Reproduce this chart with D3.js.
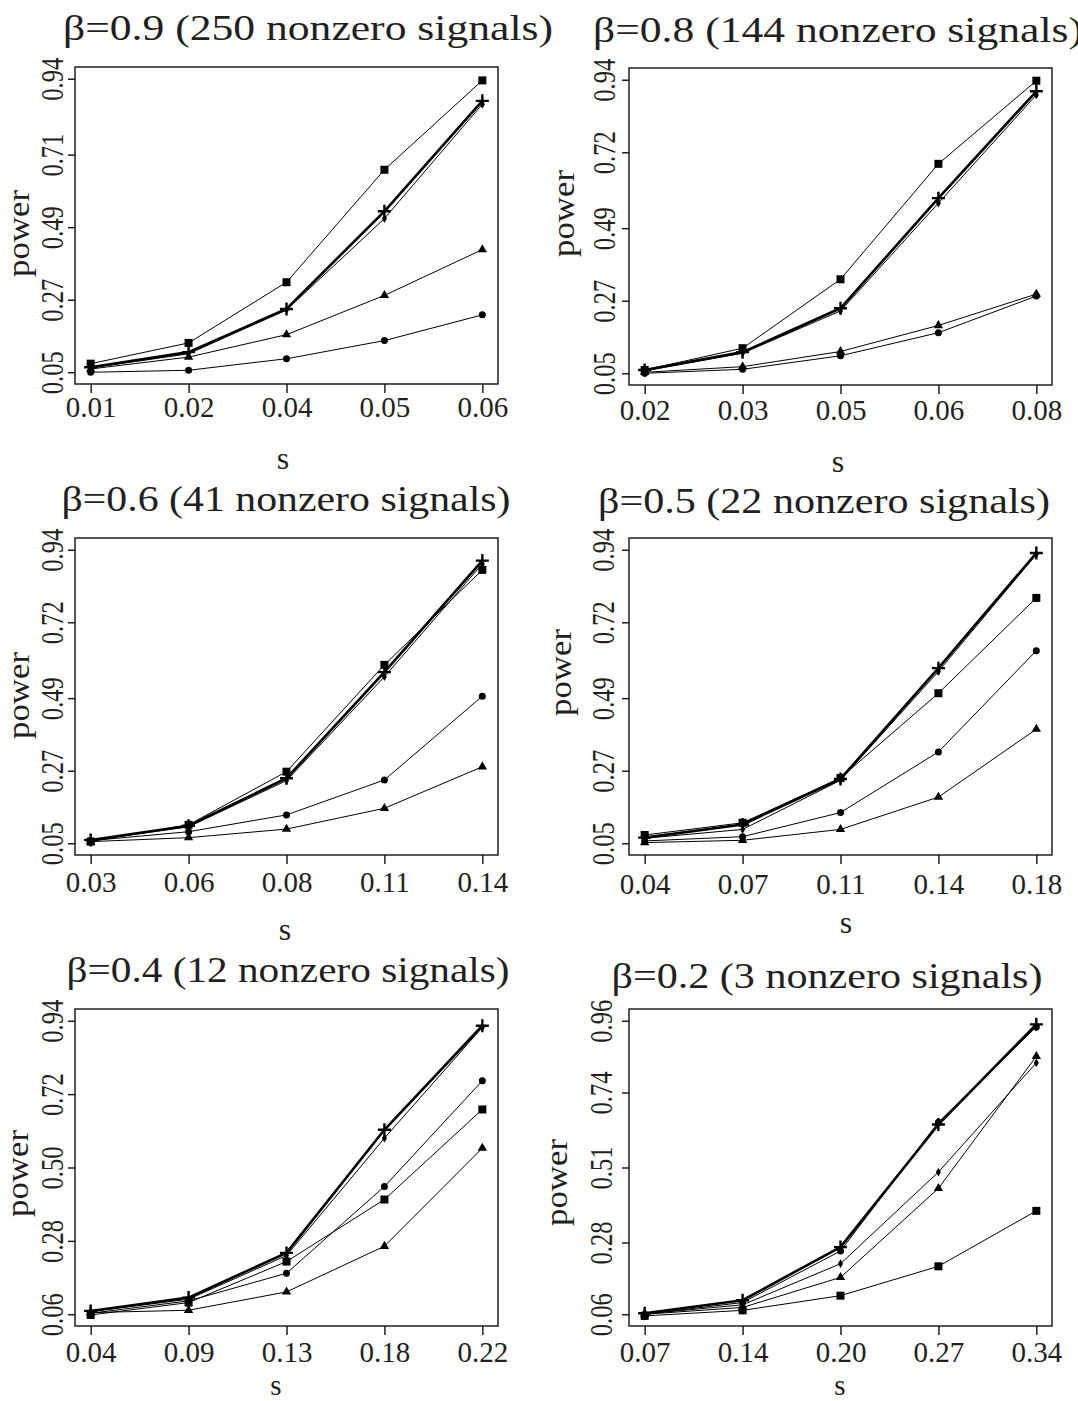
<!DOCTYPE html>
<html>
<head>
<meta charset="utf-8">
<script src="https://cdn.jsdelivr.net/npm/d3@7"></script>
<style>
  body { margin: 0; background: #fff; }
  text { font-family: "Liberation Serif", "Times New Roman", Times, serif; fill: #231f20; }
</style>
</head>
<body>
<div id="main"></div>
<script>
// panel titles and axis labels
const titles = [
    "β=0.9 (250 nonzero signals)",
    "β=0.8 (144 nonzero signals)",
    "β=0.6 (41 nonzero signals)",
    "β=0.5 (22 nonzero signals)",
    "β=0.4 (12 nonzero signals)",
    "β=0.2 (3 nonzero signals)"
];
const sLabels = [
    ["0.01", "0.02", "0.04", "0.05", "0.06"],
    ["0.02", "0.03", "0.05", "0.06", "0.08"],
    ["0.03", "0.06", "0.08", "0.11", "0.14"],
    ["0.04", "0.07", "0.11", "0.14", "0.18"],
    ["0.04", "0.09", "0.13", "0.18", "0.22"],
    ["0.07", "0.14", "0.20", "0.27", "0.34"]
];
const powerTicks = [
    ["0.05", "0.27", "0.49", "0.71", "0.94"],
    ["0.05", "0.27", "0.49", "0.72", "0.94"],
    ["0.05", "0.27", "0.49", "0.72", "0.94"],
    ["0.05", "0.27", "0.49", "0.72", "0.94"],
    ["0.06", "0.28", "0.50", "0.72", "0.94"],
    ["0.06", "0.28", "0.51", "0.74", "0.96"]
];

// power values, one row per panel
const squareVals = [
    [0.076, 0.139, 0.323, 0.664, 0.935],
    [0.060, 0.126, 0.335, 0.685, 0.937],
    [0.055, 0.106, 0.267, 0.591, 0.879],
    [0.075, 0.112, 0.248, 0.505, 0.794],
    [0.058, 0.095, 0.218, 0.404, 0.674],
    [0.055, 0.072, 0.117, 0.207, 0.377]
];
const plusVals = [
    [0.065, 0.111, 0.242, 0.538, 0.873],
    [0.060, 0.114, 0.247, 0.581, 0.905],
    [0.060, 0.103, 0.247, 0.569, 0.907],
    [0.067, 0.107, 0.245, 0.581, 0.930],
    [0.070, 0.110, 0.244, 0.613, 0.925],
    [0.063, 0.103, 0.266, 0.642, 0.949]
];
const diamondVals = [
    [0.063, 0.106, 0.239, 0.516, 0.863],
    [0.057, 0.111, 0.239, 0.566, 0.894],
    [0.058, 0.100, 0.240, 0.555, 0.897],
    [0.065, 0.092, 0.241, 0.571, 0.926],
    [0.068, 0.105, 0.236, 0.588, 0.920],
    [0.061, 0.089, 0.215, 0.496, 0.831]
];
const triangleVals = [
    [0.060, 0.096, 0.164, 0.283, 0.422],
    [0.053, 0.070, 0.116, 0.195, 0.290],
    [0.055, 0.067, 0.093, 0.156, 0.282],
    [0.052, 0.059, 0.092, 0.190, 0.396],
    [0.065, 0.072, 0.127, 0.264, 0.558],
    [0.060, 0.081, 0.173, 0.446, 0.851]
];
const circleVals = [
    [0.050, 0.056, 0.091, 0.146, 0.224],
    [0.050, 0.062, 0.103, 0.173, 0.284],
    [0.058, 0.085, 0.136, 0.242, 0.496],
    [0.057, 0.070, 0.143, 0.327, 0.634],
    [0.063, 0.100, 0.183, 0.443, 0.760],
    [0.060, 0.096, 0.254, 0.649, 0.941]
];

// page geometry of each panel
const layout = [
    { left: 75,  top: 67,   tx: 308, ty: 40,  tlen: 490, xl: 33, sx: 283, sy: 469,  ss: 32, px: 46, py: 8,   yl: 12 },
    { left: 629, top: 68,   tx: 838, ty: 42,  tlen: 490, xl: 35, sx: 838, sy: 472,  ss: 32, px: 55, py: -13, yl: 14 },
    { left: 75,  top: 538,  tx: 286, ty: 511, tlen: 449, xl: 37, sx: 285, sy: 940,  ss: 32, px: 46, py: -1,  yl: 12 },
    { left: 629, top: 538,  tx: 824, ty: 513, tlen: 452, xl: 39, sx: 846, sy: 933,  ss: 32, px: 58, py: -24, yl: 15 },
    { left: 75,  top: 1009, tx: 288, ty: 982, tlen: 443, xl: 36, sx: 276, sy: 1395, ss: 29, px: 47, py: 6,   yl: 12 },
    { left: 629, top: 1009, tx: 827, ty: 988, tlen: 431, xl: 36, sx: 840, sy: 1395, ss: 29, px: 62, py: 15,  yl: 17 }
];
const W = 423, H = 317;

const svg = d3.select("#main").append("svg")
    .attr("width", 1078)
    .attr("height", 1401);

function marker(g, type, x, y) {
    if (type === "square") {
        g.append("rect").attr("x", x - 4).attr("y", y - 4)
            .attr("width", 8).attr("height", 8).attr("fill", "#000");
    } else if (type === "circle") {
        g.append("circle").attr("cx", x).attr("cy", y).attr("r", 3.5).attr("fill", "#000");
    } else if (type === "triangle") {
        g.append("path").attr("transform", `translate(${x},${y})`)
            .attr("d", d3.symbol(d3.symbolTriangle, 38)()).attr("fill", "#000");
    } else if (type === "diamond") {
        g.append("path").attr("transform", `translate(${x},${y})`)
            .attr("d", d3.symbol(d3.symbolDiamond, 22)()).attr("fill", "#000");
    } else if (type === "plus") {
        g.append("path").attr("d", `M${x - 6.5},${y}H${x + 6.5}M${x},${y - 6.5}V${y + 6.5}`)
            .attr("stroke", "#000").attr("stroke-width", 2.4);
    }
}

titles.forEach(function (title, i) {
    const L = layout[i];
    const g = svg.append("g");
    const ticks = powerTicks[i].map(Number);
    const lo = ticks[0], hi = ticks[ticks.length - 1], r = hi - lo;

    const x = d3.scaleLinear().domain([-0.16, 4.16]).range([L.left, L.left + W]);
    const y = d3.scaleLinear().domain([lo - 0.04 * r, hi + 0.04 * r]).range([L.top + H, L.top]);

    // title
    g.append("text")
        .attr("x", L.tx).attr("y", L.ty)
        .attr("text-anchor", "middle")
        .attr("font-size", 35)
        .attr("textLength", L.tlen)
        .attr("lengthAdjust", "spacingAndGlyphs")
        .text(title);

    // series
    const series = [
        { vals: squareVals[i], type: "square", w: 1 },
        { vals: circleVals[i], type: "circle", w: 1 },
        { vals: triangleVals[i], type: "triangle", w: 1 },
        { vals: diamondVals[i], type: "diamond", w: 1 },
        { vals: plusVals[i], type: "plus", w: 2.6 }
    ];
    const line = d3.line().x((d, k) => x(k)).y(d => y(d));
    series.forEach(function (s) {
        g.append("path")
            .attr("d", line(s.vals))
            .attr("fill", "none")
            .attr("stroke", "#000")
            .attr("stroke-width", s.w)
            .attr("stroke-linejoin", "round");
        s.vals.forEach(function (v, k) { marker(g, s.type, x(k), y(v)); });
    });

    // box
    g.append("rect")
        .attr("x", L.left).attr("y", L.top)
        .attr("width", W).attr("height", H)
        .attr("fill", "none").attr("stroke", "#111").attr("stroke-width", 1.4);

    // x axis
    const xAxis = d3.axisBottom(x)
        .tickValues([0, 1, 2, 3, 4])
        .tickFormat(k => sLabels[i][k])
        .tickSize(9).tickSizeOuter(0);
    const xg = g.append("g").attr("transform", `translate(0,${L.top + H})`).call(xAxis);
    xg.select(".domain").remove();
    xg.selectAll("line").attr("stroke", "#111").attr("stroke-width", 1.4);
    xg.selectAll("text")
        .attr("y", L.xl).attr("dy", 0)
        .attr("font-size", 29)
        .attr("fill", "#231f20");

    // y axis, labels rotated like R's default
    const yAxis = d3.axisLeft(y)
        .tickValues(ticks)
        .tickFormat((d, k) => powerTicks[i][k])
        .tickSize(7).tickSizeOuter(0);
    const yg = g.append("g").attr("transform", `translate(${L.left},0)`).call(yAxis);
    yg.select(".domain").remove();
    yg.selectAll("line").attr("stroke", "#111").attr("stroke-width", 1.4);
    yg.selectAll("text")
        .attr("x", 0).attr("y", 0).attr("dy", 0)
        .attr("text-anchor", "middle")
        .attr("transform", `translate(${-L.yl},0) rotate(-90)`)
        .attr("font-size", 31)
        .attr("textLength", 43)
        .attr("lengthAdjust", "spacingAndGlyphs")
        .attr("fill", "#231f20");

    // axis titles
    g.append("text")
        .attr("transform", `translate(${L.left - L.px},${L.top + H / 2 + L.py}) rotate(-90)`)
        .attr("text-anchor", "middle")
        .attr("font-size", 31)
        .attr("textLength", 87)
        .attr("lengthAdjust", "spacingAndGlyphs")
        .text("power");
    g.append("text")
        .attr("x", L.sx).attr("y", L.sy)
        .attr("text-anchor", "middle")
        .attr("font-size", L.ss)
        .text("s");
});
</script>
</body>
</html>
